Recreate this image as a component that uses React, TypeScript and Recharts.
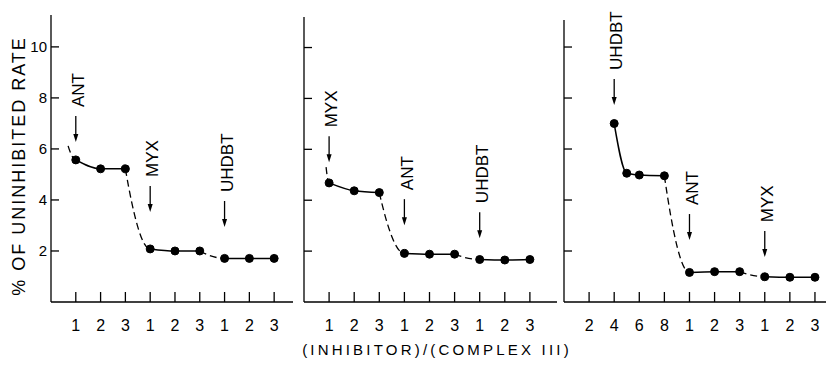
import React from "react";
import { LineChart, Line, XAxis, YAxis, ReferenceDot } from "recharts";

// panel 1: ANT -> MYX -> UHDBT
const p1X = [1, 2, 3, 4, 5, 6, 7, 8, 9];
const p1Values = [5.57, 5.22, 5.22, 2.08, 2.0, 2.0, 1.71, 1.71, 1.71];
const p1Lead = { x: 0.69, y: 6.12 };
const p1Ticks = [1, 2, 3, 4, 5, 6, 7, 8, 9];
const p1TickLabels = ["1", "2", "3", "1", "2", "3", "1", "2", "3"];
const p1Arrows = [
  { x: 1, tip: 6.27, label: "ANT" },
  { x: 4, tip: 3.53, label: "MYX" },
  { x: 7, tip: 2.94, label: "UHDBT" },
];

// panel 2: MYX -> ANT -> UHDBT
const p2X = [1, 2, 3, 4, 5, 6, 7, 8, 9];
const p2Values = [4.68, 4.37, 4.3, 1.91, 1.88, 1.88, 1.67, 1.65, 1.67];
const p2Lead = { x: 0.88, y: 5.3 };
const p2Ticks = [1, 2, 3, 4, 5, 6, 7, 8, 9];
const p2TickLabels = ["1", "2", "3", "1", "2", "3", "1", "2", "3"];
const p2Arrows = [
  { x: 1, tip: 5.49, label: "MYX" },
  { x: 4, tip: 3.02, label: "ANT" },
  { x: 7, tip: 2.51, label: "UHDBT" },
];

// panel 3: UHDBT (ratio 4,5,6,8) -> ANT -> MYX
const p3X = [2, 2.5, 3, 4, 5, 6, 7, 8, 9, 10];
const p3Values = [7.0, 5.05, 4.98, 4.95, 1.16, 1.19, 1.19, 0.99, 0.97, 0.97];
const p3Ticks = [1, 2, 3, 4, 5, 6, 7, 8, 9, 10];
const p3TickLabels = ["2", "4", "6", "8", "1", "2", "3", "1", "2", "3"];
const p3Arrows = [
  { x: 2, tip: 7.73, label: "UHDBT" },
  { x: 5, tip: 2.43, label: "ANT" },
  { x: 8, tip: 1.76, label: "MYX" },
];

const yTicks = [2, 4, 6, 8, 10];
const FONT = '"Liberation Sans", Arial, Helvetica, sans-serif';

// steep start, flat landing: used for the dashed drops between inhibitor steps
const dropCurve = (context: any) => {
  let pts: number[][] = [];
  return {
    areaStart() {},
    areaEnd() {},
    lineStart() {
      pts = [];
    },
    point(x: number, y: number) {
      pts.push([+x, +y]);
    },
    lineEnd() {
      if (!pts.length) return;
      context.moveTo(pts[0][0], pts[0][1]);
      for (let i = 1; i < pts.length; i++) {
        const [x0, y0] = pts[i - 1];
        const [x1, y1] = pts[i];
        const dx = x1 - x0;
        const dy = y1 - y0;
        context.bezierCurveTo(x0 + dx / 3, y0 + dy * 0.6, x1 - dx / 3, y1, x1, y1);
      }
    },
  };
};

const ArrowMark = (props: any) => {
  const { cx, cy, label } = props;
  const top = cy - 26;
  const tx = cx + 2;
  const ty = top - 9;
  return (
    <g>
      <line x1={cx} x2={cx} y1={top} y2={cy - 6} stroke="#000" strokeWidth={1.3} />
      <polygon points={`${cx - 2.5},${cy - 8} ${cx + 2.5},${cy - 8} ${cx},${cy}`} fill="#000" />
      <text
        x={tx}
        y={ty}
        dy="0.36em"
        textAnchor="start"
        transform={`rotate(-90 ${tx} ${ty})`}
        fontSize={17}
        fontFamily={FONT}
        fill="#000"
      >
        {label}
      </text>
    </g>
  );
};

interface PanelProps {
  xs: number[];
  values: number[];
  groups: number[][];
  lead?: { x: number; y: number };
  ticks: number[];
  tickLabels: string[];
  arrows: { x: number; tip: number; label: string }[];
  left: number;
  width: number;
  axisWidth: number;
  top: number;
  yMax: number;
  xMax: number;
  showYLabels: boolean;
}

const Panel: React.FC<PanelProps> = ({
  xs,
  values,
  groups,
  lead,
  ticks,
  tickLabels,
  arrows,
  left,
  width,
  axisWidth,
  top,
  yMax,
  xMax,
  showYLabels,
}) => {
  const pts = xs.map((x, i) => ({ x, y: values[i] }));
  const connectors: { x: number; y: number }[][] = [];
  if (lead) connectors.push([lead, pts[0]]);
  for (let g = 0; g < groups.length - 1; g++) {
    connectors.push([pts[groups[g][1] - 1], pts[groups[g + 1][0]]]);
  }

  const YTick = (p: any) => (
    <g>
      <line x1={p.x} x2={p.x + 8} y1={p.y} y2={p.y} stroke="#000" strokeWidth={1.3} />
      {showYLabels && (
        <text x={p.x - 4} y={p.y} dy="0.36em" textAnchor="end" fontSize={15} fontFamily={FONT} fill="#000">
          {p.payload.value}
        </text>
      )}
    </g>
  );

  const XTick = (p: any) => (
    <g>
      <line x1={p.x} x2={p.x} y1={p.y} y2={p.y - 10} stroke="#000" strokeWidth={1.3} />
      <text x={p.x} y={p.y + 23} dy="0.36em" textAnchor="middle" fontSize={16} fontFamily={FONT} fill="#000">
        {tickLabels[ticks.indexOf(p.payload.value)]}
      </text>
    </g>
  );

  return (
    <div style={{ position: "absolute", left, top: 0 }}>
      <LineChart width={width} height={345} margin={{ top, right: 0, bottom: 5, left: 0 }}>
        <XAxis
          type="number"
          dataKey="x"
          domain={[0, xMax]}
          ticks={ticks}
          interval={0}
          height={38}
          tickSize={0}
          tickMargin={0}
          tickLine={false}
          axisLine={{ stroke: "#000", strokeWidth: 1.3 }}
          tick={XTick}
          allowDataOverflow
        />
        <YAxis
          type="number"
          domain={[0, yMax]}
          ticks={yTicks}
          interval={0}
          width={axisWidth}
          tickSize={0}
          tickMargin={0}
          tickLine={false}
          axisLine={{ stroke: "#000", strokeWidth: 1.3 }}
          tick={YTick}
          allowDataOverflow
        />
        {connectors.map((c, i) => (
          <Line
            key={`c${i}`}
            data={c}
            dataKey="y"
            type={dropCurve as any}
            stroke="#000"
            strokeWidth={1.3}
            strokeDasharray="7 4"
            dot={false}
            isAnimationActive={false}
          />
        ))}
        {groups.map((g, i) => (
          <Line
            key={`g${i}`}
            data={pts.slice(g[0], g[1])}
            dataKey="y"
            type="monotone"
            stroke="#000"
            strokeWidth={1.5}
            dot={{ r: 4, fill: "#000", stroke: "#000", strokeWidth: 1 }}
            isAnimationActive={false}
          />
        ))}
        {arrows.map((a, i) => (
          <ReferenceDot
            key={`a${i}`}
            x={a.x}
            y={a.tip}
            r={0}
            shape={(p: any) => <ArrowMark {...p} label={a.label} />}
          />
        ))}
      </LineChart>
    </div>
  );
};

export default function App() {
  return (
    <div style={{ position: "absolute", left: 0, top: 0, width: 826, height: 390, background: "#fff" }}>
      <Panel
        xs={p1X}
        values={p1Values}
        groups={[[0, 3], [3, 6], [6, 9]]}
        lead={p1Lead}
        ticks={p1Ticks}
        tickLabels={p1TickLabels}
        arrows={p1Arrows}
        left={0}
        width={293}
        axisWidth={51}
        top={15}
        yMax={11.25}
        xMax={9.76}
        showYLabels
      />
      <Panel
        xs={p2X}
        values={p2Values}
        groups={[[0, 3], [3, 6], [6, 9]]}
        lead={p2Lead}
        ticks={p2Ticks}
        tickLabels={p2TickLabels}
        arrows={p2Arrows}
        left={293}
        width={264}
        axisWidth={11}
        top={17}
        yMax={11.2}
        xMax={10.08}
        showYLabels={false}
      />
      <Panel
        xs={p3X}
        values={p3Values}
        groups={[[0, 4], [4, 7], [7, 10]]}
        ticks={p3Ticks}
        tickLabels={p3TickLabels}
        arrows={p3Arrows}
        left={557}
        width={269}
        axisWidth={7}
        top={20}
        yMax={11.06}
        xMax={10.44}
        showYLabels={false}
      />
      <svg width={826} height={390} style={{ position: "absolute", left: 0, top: 0, pointerEvents: "none" }}>
        <text
          x={19}
          y={166}
          dy="0.36em"
          textAnchor="middle"
          transform="rotate(-90 19 166)"
          fontSize={18}
          letterSpacing={2}
          fontFamily={FONT}
          fill="#000"
        >
          % OF UNINHIBITED RATE
        </text>
        <text x={437} y={350} dy="0.36em" textAnchor="middle" fontSize={15} letterSpacing={3.2} fontFamily={FONT} fill="#000">
          (INHIBITOR)/(COMPLEX III)
        </text>
      </svg>
    </div>
  );
}
